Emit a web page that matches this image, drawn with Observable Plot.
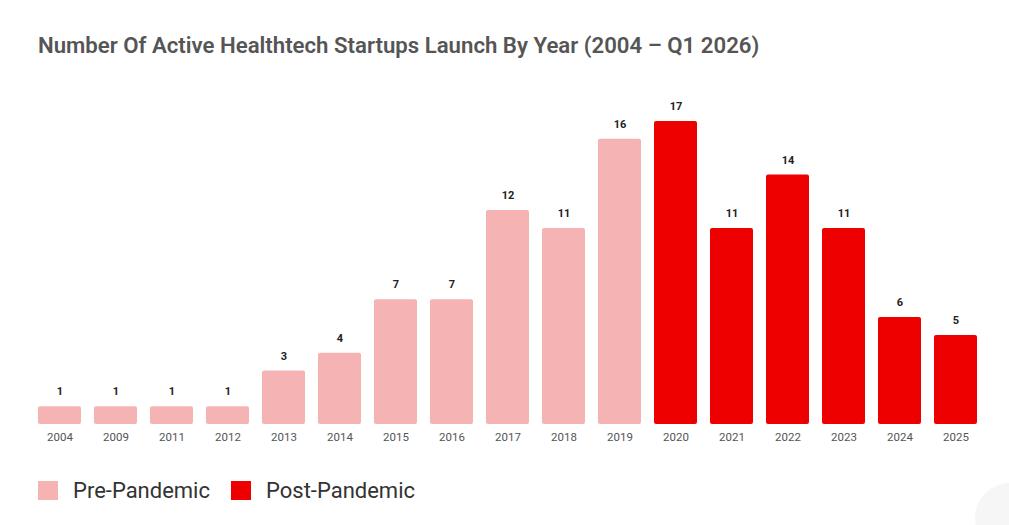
<!DOCTYPE html>
<html>
<head>
<meta charset="utf-8">
<script src="https://cdn.jsdelivr.net/npm/d3@7"></script>
<script src="https://cdn.jsdelivr.net/npm/@observablehq/plot@0.6"></script>
<style>
  html, body { margin: 0; padding: 0; background: #fff; }
  body { width: 1009px; height: 525px; position: relative; overflow: hidden; font-family: Roboto, "Noto Sans", sans-serif; }
  #title { position: absolute; left: 38px; top: 32px; font-size: 22.2px; font-weight: 600; color: #555; }
  #chart { position: absolute; left: 0; top: 60px; }
  #legend { position: absolute; left: 38px; top: 478px; display: flex; align-items: center; font-size: 22px; color: #333; }
  .sw { width: 20px; height: 19px; display: inline-block; margin-right: 15px; }
  .item { display: flex; align-items: center; margin-right: 21px; }
  #deco { position: absolute; left: 975px; top: 483px; width: 70px; height: 70px; border-radius: 50%; background: #f6f6f6; }
</style>
</head>
<body>
<div id="title">Number Of Active Healthtech Startups Launch By Year (2004 – Q1 2026)</div>
<div id="chart"></div>
<div id="legend"></div>
<div id="deco"></div>
<script>
// Launch years and number of active startups founded in each
const years = ["2004", "2009", "2011", "2012", "2013", "2014", "2015", "2016", "2017", "2018", "2019",
               "2020", "2021", "2022", "2023", "2024", "2025"];
const counts = [1, 1, 1, 1, 3, 4, 7, 7, 12, 11, 16, 17, 11, 14, 11, 6, 5];
const periods = ["Pre-Pandemic", "Post-Pandemic"];
const periodColors = ["#f5b3b3", "#ee0000"];

const data = years.map((y, i) => ({
  year: y,
  count: counts[i],
  period: +y < 2020 ? periods[0] : periods[1]
}));

const chart = Plot.plot({
  width: 1009,
  height: 400,
  marginLeft: 38,
  marginRight: 31,
  marginTop: 61,
  marginBottom: 36,
  x: { domain: years, paddingInner: 0.225, paddingOuter: 0, label: null },
  y: { domain: [0, 17], axis: null },
  color: { domain: periods, range: periodColors },
  style: { fontFamily: "Roboto, 'Noto Sans', sans-serif", background: "transparent" },
  marks: [
    Plot.barY(data, { x: "year", y: "count", fill: "period", rx: 2 }),
    Plot.text(data, { x: "year", y: "count", text: d => String(d.count), dy: -15,
      fontSize: 11, fontWeight: 700, fill: "#222" }),
    Plot.axisX({ tickSize: 0, tickPadding: 8, fontSize: 11.5, color: "#555" })
  ]
});
document.getElementById("chart").appendChild(chart);

// Legend below the chart
const legend = document.getElementById("legend");
periods.forEach((p, i) => {
  const item = document.createElement("div");
  item.className = "item";
  const sw = document.createElement("span");
  sw.className = "sw";
  sw.style.background = periodColors[i];
  item.appendChild(sw);
  item.appendChild(document.createTextNode(p));
  legend.appendChild(item);
});
</script>
</body>
</html>
